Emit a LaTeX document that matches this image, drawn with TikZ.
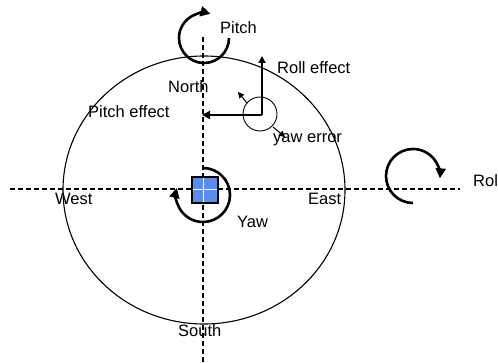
\documentclass[tikz,border=0pt]{standalone}
\usepackage{fontspec}
\setmainfont{Liberation Sans}
\usetikzlibrary{arrows.meta}
\definecolor{boxblue}{RGB}{90,140,240}
\begin{document}
\begin{tikzpicture}[x=1pt,y=-1pt,
  lbl/.style={anchor=base west,inner sep=0pt,font=\fontsize{16.5}{19}\selectfont},
  axisline/.style={line width=1.2pt,dash pattern=on 5pt off 3pt},
  rot/.style={line width=2.6pt,-{Triangle[length=10pt,width=10pt]}},
  thickarr/.style={line width=2.8pt,line join=miter},
  thinarr/.style={line width=1pt,-{Triangle[length=6pt,width=6pt]}}]
\useasboundingbox (0,0) rectangle (498,363);
% axes
\coordinate (vtop) at (203,37);
\coordinate (vbot) at (203,363);
\coordinate (hleft) at (10,189);
\coordinate (hright) at (460,189);
\draw[axisline] (vtop) -- (vbot);
\draw[axisline] (hleft) -- (hright);
% earth ellipse
\coordinate (earth) at (204,190);
\draw[line width=1.1pt] (earth) ellipse[x radius=141,y radius=134];
% yaw box
\coordinate (boxa) at (192,177);
\coordinate (boxb) at (218,203);
\draw[line width=1.2pt,fill=boxblue] (boxa) rectangle (boxb);
\draw[white,line width=0.8pt] (203,178) -- (203,202) (193,189) -- (217,189);
% rotation arrows
\coordinate (pitchc) at (204,38);
\draw[rot] (pitchc) ++(0:25) arc[start angle=0,end angle=285,radius=25];
\coordinate (rollc) at (413,176);
\draw[rot] (rollc) ++(90:27) arc[start angle=90,end angle=365,radius=27];
\coordinate (yawc) at (203,195);
\draw[rot] (yawc) ++(270:27) arc[start angle=270,end angle=555,radius=27];
% effect arrows
\coordinate (corner) at (262,115);
\coordinate (rolltip) at (262,56);
\coordinate (pitchtip) at (202,115);
\draw[thickarr,-{Triangle[length=7pt,width=7pt]}] (corner) -- (rolltip);
\draw[thickarr,-{Triangle[length=8pt,width=8pt]}] (corner) -- (pitchtip);
\coordinate (yec) at (260,114);
\draw[line width=0.9pt] (yec) circle[radius=17];
\coordinate (ya1) at (247,103);
\coordinate (ya2) at (238,92);
\coordinate (yb1) at (273,127);
\coordinate (yb2) at (285,137);
\draw[thinarr] (ya1) -- (ya2);
\draw[thinarr] (yb1) -- (yb2);
% labels
\node[lbl] (pitch) at (220,34) {Pitch};
\node[lbl] (north) at (168,93) {North};
\node[lbl] (rolleff) at (277,74) {Roll effect};
\node[lbl] (pitcheff) at (88,118) {Pitch effect};
\node[lbl] (yawerr) at (273,143) {yaw error};
\node[lbl] (west) at (55,205) {West};
\node[lbl] (east) at (308,205) {East};
\node[lbl] (yaw) at (237,228) {Yaw};
\node[lbl] (south) at (178,337) {South};
\node[lbl] (roll) at (473,187) {Rol};
\end{tikzpicture}
\end{document}
